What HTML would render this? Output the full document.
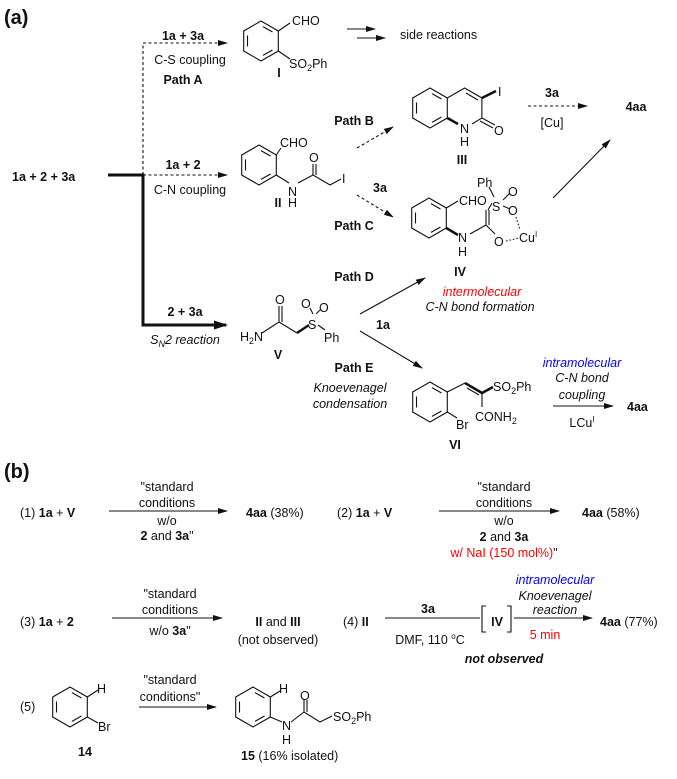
<!DOCTYPE html>
<html><head><meta charset="utf-8"><style>
html,body{margin:0;padding:0;background:#fff}
svg{display:block}
text{font-family:"Liberation Sans",Arial,sans-serif;font-size:12.5px;fill:#111}
.b{font-weight:bold}.i{font-style:italic}.r{fill:#f00}.bl{fill:#00f}.m{text-anchor:middle}
</style></head><body>
<svg width="677" height="779" viewBox="0 0 677 779" xmlns="http://www.w3.org/2000/svg">
<defs>
<marker id="ah" markerWidth="10" markerHeight="6" refX="9" refY="3" orient="auto" markerUnits="userSpaceOnUse"><path d="M0,0 L10,3 L0,6 Z" fill="#111"/></marker>
<marker id="ahb" markerWidth="14" markerHeight="9" refX="12" refY="4.5" orient="auto" markerUnits="userSpaceOnUse"><path d="M0,0 L14,4.5 L0,9 Z" fill="#111"/></marker>
<g id="bz" fill="none" stroke="#111" stroke-width="1.1">
<polygon points="0,-20 17.3,-10 17.3,10 0,20 -17.3,10 -17.3,-10"/>
<line x1="2" y1="-14.4" x2="11.5" y2="-9"/><line x1="11.5" y1="9" x2="2" y2="14.4"/><line x1="-13.5" y1="5.5" x2="-13.5" y2="-5.5"/>
</g>
</defs>
<g stroke="#111" fill="none" stroke-width="1.1">
<!-- main lines -->
<path d="M143,175 V43 H227" stroke-dasharray="3,2.5" marker-end="url(#ah)"/>
<path d="M143,175 H227" stroke-dasharray="3,2.5" marker-end="url(#ah)"/>
<path d="M108,175 H143 V325 H226" stroke-width="3" marker-end="url(#ahb)"/>
<line x1="347" y1="29" x2="375" y2="29" marker-end="url(#ah)"/>
<line x1="357" y1="38" x2="385" y2="38" marker-end="url(#ah)"/>
<line x1="357" y1="148" x2="393" y2="127" stroke-dasharray="3,2.5" marker-end="url(#ah)"/>
<line x1="528" y1="106" x2="587" y2="106" stroke-dasharray="3,2.5" marker-end="url(#ah)"/>
<line x1="357" y1="195" x2="393" y2="217" stroke-dasharray="3,2.5" marker-end="url(#ah)"/>
<line x1="553" y1="198" x2="610" y2="140" marker-end="url(#ah)"/>
<line x1="360" y1="314" x2="425" y2="278" marker-end="url(#ah)"/>
<line x1="360" y1="331" x2="422" y2="368" marker-end="url(#ah)"/>
<line x1="553" y1="406" x2="613" y2="406" marker-end="url(#ah)"/>
<!-- I -->
<use href="#bz" x="261" y="41"/>
<line x1="278.3" y1="31" x2="290" y2="23"/><line x1="278.3" y1="51" x2="290" y2="59"/>
<!-- II -->
<use href="#bz" x="259" y="165"/>
<line x1="276.3" y1="155" x2="281" y2="148"/><line x1="276.3" y1="175" x2="289" y2="183"/>
<polyline points="298,183 313,175 330,185 341,179"/>
<line x1="313" y1="175" x2="313" y2="164"/><line x1="316" y1="175" x2="316" y2="164"/>
<!-- III -->
<use href="#bz" x="430" y="108"/>
<polyline points="447.3,98 464.6,88 481.9,98 481.9,118 472,124"/>
<line x1="447.3" y1="118" x2="458" y2="124" stroke-width="2.5"/>
<line x1="466" y1="93" x2="478" y2="100"/>
<line x1="481.9" y1="98" x2="496" y2="91" stroke-width="2.5"/>
<line x1="481.9" y1="118" x2="495" y2="125"/><line x1="480" y1="121" x2="493" y2="128"/>
<!-- IV -->
<use href="#bz" x="429" y="218"/>
<line x1="446.3" y1="208" x2="458" y2="201"/>
<line x1="446.3" y1="228" x2="458" y2="235" stroke-width="2.5"/>
<line x1="470" y1="234" x2="486" y2="225"/>
<line x1="486" y1="225" x2="486" y2="210"/><line x1="489" y1="225" x2="489" y2="210"/>
<line x1="488" y1="210" x2="492" y2="203"/>
<line x1="486" y1="225" x2="495" y2="234"/>
<line x1="489" y1="187" x2="494" y2="197"/>
<line x1="503" y1="200" x2="510" y2="193"/><line x1="503" y1="206" x2="510" y2="209"/>
<line x1="516" y1="217" x2="520" y2="230" stroke-dasharray="1.5,2"/>
<line x1="506" y1="241" x2="519" y2="238" stroke-dasharray="1.5,2"/>
<!-- V -->
<polyline points="262,333 279,322 297,333"/>
<line x1="279" y1="322" x2="279" y2="306"/><line x1="282" y1="322" x2="282" y2="306"/>
<line x1="297" y1="333" x2="309" y2="325" stroke-width="2.5"/>
<line x1="313" y1="314" x2="310" y2="308"/><line x1="316" y1="314" x2="320" y2="310"/>
<line x1="318" y1="325" x2="325" y2="330"/>
<!-- VI -->
<use href="#bz" x="430" y="402"/>
<line x1="447.3" y1="392" x2="465" y2="383"/>
<line x1="465" y1="383" x2="482" y2="393" stroke-width="2.5"/><line x1="467" y1="388" x2="479" y2="395"/>
<line x1="482" y1="393" x2="493" y2="387" stroke-width="2.5"/>
<line x1="482" y1="393" x2="482" y2="407"/>
<line x1="447.3" y1="412" x2="457" y2="418"/>
<!-- (b) arrows -->
<line x1="109" y1="511" x2="227" y2="511" marker-end="url(#ah)"/>
<line x1="439" y1="511" x2="559" y2="511" marker-end="url(#ah)"/>
<line x1="112" y1="618" x2="222" y2="618" marker-end="url(#ah)"/>
<line x1="385" y1="618" x2="480" y2="618"/>
<line x1="514" y1="618" x2="592" y2="618" marker-end="url(#ah)"/>
<path d="M486,606 H482 V632 H486 M507,606 H511 V632 H507"/>
<line x1="139" y1="707" x2="216" y2="707" marker-end="url(#ah)"/>
<!-- 14 -->
<use href="#bz" x="70" y="707"/>
<line x1="87.3" y1="697" x2="98" y2="690"/><line x1="87.3" y1="717" x2="98" y2="723"/>
<!-- 15 -->
<use href="#bz" x="253" y="707"/>
<line x1="270.3" y1="697" x2="280" y2="691"/><line x1="270.3" y1="717" x2="282" y2="722"/>
<polyline points="291,722 304,712 320,722 332,716"/>
<line x1="304" y1="712" x2="304" y2="700"/><line x1="307" y1="712" x2="307" y2="700"/>
</g>

<text x="4" y="24" class="b" style="font-size:20px">(a)</text>
<text x="183" y="40" class="b m">1a + 3a</text>
<text x="190" y="64" class="m">C-S coupling</text>
<text x="183" y="84" class="b m">Path A</text>
<text x="292" y="25">CHO</text>
<text x="289" y="68">SO<tspan font-size="9" dy="3">2</tspan><tspan dy="-3">Ph</tspan></text>
<text x="279" y="77" class="b m">I</text>
<text x="400" y="39">side reactions</text>
<text x="12" y="181" class="b">1a  +  2  +  3a</text>
<text x="183" y="169" class="b m">1a + 2</text>
<text x="190" y="194" class="m">C-N coupling</text>
<text x="280" y="147">CHO</text>
<text x="309" y="162">O</text>
<text x="288" y="196">N</text><text x="288" y="207">H</text>
<text x="278" y="207" class="b m">II</text>
<text x="342" y="183">I</text>
<text x="354" y="125" class="b m">Path B</text>
<text x="498" y="96">I</text>
<text x="494" y="135">O</text>
<text x="460" y="133">N</text><text x="460" y="146">H</text>
<text x="462" y="164" class="b m">III</text>
<text x="552" y="97" class="b m">3a</text>
<text x="552" y="127" class="m">[Cu]</text>
<text x="636" y="111" class="b m">4aa</text>
<text x="380" y="192" class="b m">3a</text>
<text x="354" y="230" class="b m">Path C</text>
<text x="459" y="205">CHO</text>
<text x="477" y="187">Ph</text>
<text x="492" y="211">S</text>
<text x="508" y="196">O</text><text x="508" y="215">O</text>
<text x="494" y="246">O</text>
<text x="519" y="242">Cu<tspan font-size="8" dy="-5">I</tspan></text>
<text x="458" y="242">N</text><text x="458" y="256">H</text>
<text x="460" y="276" class="b m">IV</text>
<text x="354" y="281" class="b m">Path D</text>
<text x="482" y="296" class="i r m">intermolecular</text>
<text x="480" y="311" class="i m">C-N bond formation</text>
<text x="185" y="316" class="b m">2 + 3a</text>
<text x="185" y="344" class="i m">S<tspan font-size="9" dy="3">N</tspan><tspan dy="-3">2 reaction</tspan></text>
<text x="240" y="341">H<tspan font-size="9" dy="3">2</tspan><tspan dy="-3">N</tspan></text>
<text x="275" y="304">O</text>
<text x="308" y="329">S</text>
<text x="301" y="308">O</text><text x="319" y="312">O</text>
<text x="324" y="342">Ph</text>
<text x="278" y="359" class="b m">V</text>
<text x="383" y="329" class="b m">1a</text>
<text x="354" y="372" class="b m">Path E</text>
<text x="350" y="392" class="i m">Knoevenagel</text>
<text x="350" y="408" class="i m">condensation</text>
<text x="493" y="391">SO<tspan font-size="9" dy="3">2</tspan><tspan dy="-3">Ph</tspan></text>
<text x="475" y="421">CONH<tspan font-size="9" dy="3">2</tspan></text>
<text x="456" y="429">Br</text>
<text x="455" y="449" class="b m">VI</text>
<text x="582" y="367" class="i bl m">intramolecular</text>
<text x="582" y="382" class="i m">C-N bond</text>
<text x="582" y="399" class="i m">coupling</text>
<text x="582" y="427" class="m">LCu<tspan font-size="8" dy="-5">I</tspan></text>
<text x="627" y="411" class="b">4aa</text>

<text x="4" y="478" class="b" style="font-size:20px">(b)</text>
<text x="20" y="517">(1) <tspan class="b">1a</tspan>  +  <tspan class="b">V</tspan></text>
<text x="167" y="491" class="m">"standard</text>
<text x="167" y="507" class="m">conditions</text>
<text x="167" y="525" class="m">w/o</text>
<text x="167" y="540" class="m"><tspan class="b">2</tspan> and <tspan class="b">3a</tspan>"</text>
<text x="246" y="517"><tspan class="b">4aa</tspan> (38%)</text>
<text x="337" y="517">(2)  <tspan class="b">1a</tspan>  +  <tspan class="b">V</tspan></text>
<text x="504" y="491" class="m">"standard</text>
<text x="504" y="507" class="m">conditions</text>
<text x="504" y="525" class="m">w/o</text>
<text x="504" y="541" class="m"><tspan class="b">2</tspan> and <tspan class="b">3a</tspan></text>
<text x="504" y="557" class="m"><tspan class="r">w/ NaI (150 mol%)</tspan>"</text>
<text x="582" y="517"><tspan class="b">4aa</tspan> (58%)</text>
<text x="20" y="626">(3) <tspan class="b">1a</tspan>  +  <tspan class="b">2</tspan></text>
<text x="170" y="598" class="m">"standard</text>
<text x="170" y="614" class="m">conditions</text>
<text x="170" y="635" class="m">w/o <tspan class="b">3a</tspan>"</text>
<text x="278" y="626" class="m"><tspan class="b">II</tspan> and <tspan class="b">III</tspan></text>
<text x="278" y="644" class="m">(not observed)</text>
<text x="343" y="626">(4)  <tspan class="b">II</tspan></text>
<text x="428" y="613" class="b m">3a</text>
<text x="430" y="644" class="m">DMF, 110 <tspan font-size="8" dy="-5">o</tspan><tspan dy="5">C</tspan></text>
<text x="497" y="626" class="b m">IV</text>
<text x="555" y="584" class="i bl m">intramolecular</text>
<text x="555" y="600" class="i m">Knoevenagel</text>
<text x="555" y="614" class="i m">reaction</text>
<text x="545" y="639" class="r m">5 min</text>
<text x="600" y="626"><tspan class="b">4aa</tspan> (77%)</text>
<text x="504" y="663" class="b i m">not observed</text>
<text x="20" y="711">(5)</text>
<text x="97" y="693">H</text>
<text x="98" y="731">Br</text>
<text x="85" y="756" class="b m">14</text>
<text x="170" y="684" class="m">"standard</text>
<text x="170" y="701" class="m">conditions"</text>
<text x="279" y="693">H</text>
<text x="300" y="700">O</text>
<text x="282" y="730">N</text><text x="282" y="744">H</text>
<text x="333" y="721">SO<tspan font-size="9" dy="3">2</tspan><tspan dy="-3">Ph</tspan></text>
<text x="241" y="760"><tspan class="b">15</tspan>  (16% isolated)</text>
</svg>
</body></html>
